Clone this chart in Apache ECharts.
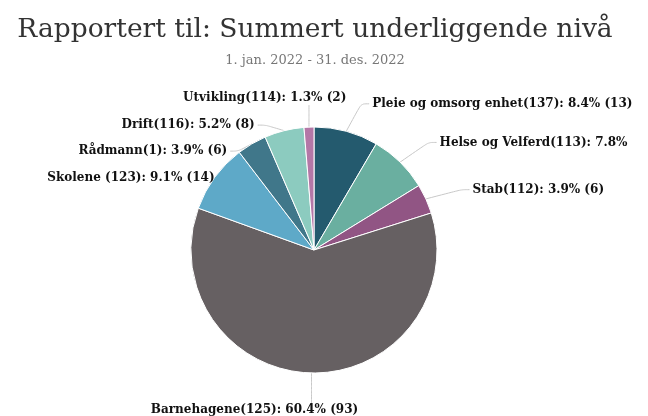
<!DOCTYPE html>
<html>
<head>
<meta charset="utf-8">
<script src="https://cdn.jsdelivr.net/npm/echarts@6/dist/echarts.min.js"></script>
<style>
  html, body { margin: 0; padding: 0; background: #fff; }
  #chart { width: 648px; height: 416px; }
</style>
</head>
<body>
<div id="chart"></div>
<script>
// data
var names = ['Pleie og omsorg enhet(137)', 'Helse og Velferd(113)', 'Stab(112)', 'Barnehagene(125)',
             'Skolene (123)', 'Rådmann(1)', 'Drift(116)', 'Utvikling(114)'];
var counts = [13, 12, 6, 93, 14, 6, 8, 2];
var colors = ['#245a6e', '#6aafa0', '#915584', '#666062', '#5ea9c8', '#40778a', '#8ccbbf', '#b477a7'];

// nudges for the labels (px), same order as names
var labelShift = [[9, -13], [16, -9], [20, -3], [60, 22], [20, 9], [5, 11], [10, -1], [51, -14]];

var pieData = [];
for (var i = 0; i < names.length; i++) {
  pieData.push({ name: names[i], value: counts[i], itemStyle: { color: colors[i] } });
}

// move a label and redraw its guide line from the point on the slice to the label
function placeLabel(p) {
  var s = labelShift[p.dataIndex];
  var r = p.labelRect;
  var x = r.x + s[0], y = r.y + s[1];
  var p0 = p.labelLinePoints[0];
  var cy = y + r.height / 2;
  var mid, end;
  if (p0[0] > x && p0[0] < x + r.width) {
    // label straddles the line: go straight up/down to it
    end = [p0[0], p0[1] < y ? y - 1 : y + r.height + 1];
    mid = [p0[0], (p0[1] + end[1]) / 2];
  } else if (x >= p0[0]) {
    end = [x - 3, cy];
    mid = [Math.max(end[0] - 8, p0[0]), cy];
  } else {
    end = [x + r.width + 3, cy];
    mid = [Math.min(end[0] + 8, p0[0]), cy];
  }
  return {
    x: x, y: y, align: 'left', verticalAlign: 'top',
    labelLinePoints: [[p0[0], p0[1]], mid, end]
  };
}

var chart = echarts.init(document.getElementById('chart'));
chart.setOption({
  title: {
    text: 'Rapportert til: Summert underliggende nivå',
    subtext: '1. jan. 2022 - 31. des. 2022',
    left: 310,
    textAlign: 'center',
    top: 12,
    itemGap: 10,
    textStyle: { fontFamily: 'DejaVu Serif', fontSize: 26.5, fontWeight: 'normal', color: '#333' },
    subtextStyle: { fontFamily: 'DejaVu Serif', fontSize: 13, color: '#777' }
  },
  series: [{
    type: 'pie',
    center: [314, 250],
    radius: 123,
    startAngle: 90,
    data: pieData,
    itemStyle: { borderColor: '#fff', borderWidth: 1 },
    label: {
      fontFamily: 'DejaVu Serif',
      fontWeight: 'bold',
      fontSize: 12,
      color: '#111',
      formatter: function (p) {
        var txt = p.name + ': ' + p.percent.toFixed(1) + '%';
        if (p.name.indexOf('Helse') === 0) return txt;
        return txt + ' (' + p.value + ')';
      }
    },
    labelLine: { length: 15, length2: 8, smooth: true, lineStyle: { color: '#c8c8c8' } },
    labelLayout: placeLabel
  }]
});
</script>
</body>
</html>
